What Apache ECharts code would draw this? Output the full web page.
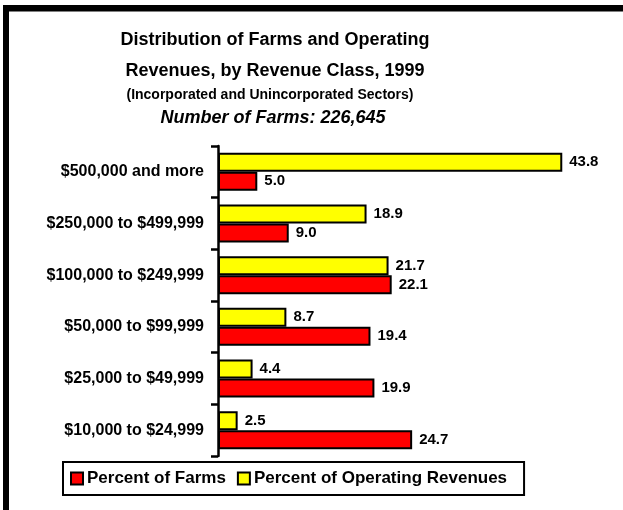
<!DOCTYPE html>
<html>
<head>
<meta charset="utf-8">
<script src="https://cdn.jsdelivr.net/npm/echarts@6/dist/echarts.min.js"></script>
<style>
  html, body { margin: 0; padding: 0; background: #fff; }
  #main { width: 623px; height: 510px; }
</style>
</head>
<body>
<div id="main"></div>
<script>
  // categories listed bottom to top (category axis runs upward)
  var categories = [
    '$10,000 to $24,999',
    '$25,000 to $49,999',
    '$50,000 to $99,999',
    '$100,000 to $249,999',
    '$250,000 to $499,999',
    '$500,000 and more'
  ];
  var farmsPct = [24.7, 19.9, 19.4, 22.1, 9.0, 5.0];
  var revenuePct = [2.5, 4.4, 8.7, 21.7, 18.9, 43.8];

  var titleLines = [
    'Distribution of Farms and Operating',
    'Revenues, by Revenue Class, 1999',
    '(Incorporated and Unincorporated Sectors)',
    'Number of Farms: 226,645'
  ];

  var FONT = '"Liberation Sans", Arial, Helvetica, sans-serif';
  var myChart = echarts.init(document.getElementById('main'));

  function valueLabel() {
    return {
      show: true,
      position: 'right',
      distance: 7,
      color: '#000',
      fontFamily: FONT,
      fontWeight: 'bold',
      fontSize: 15,
      formatter: function (p) { return p.value.toFixed(1); }
    };
  }

  myChart.setOption({
    backgroundColor: '#fff',
    animation: false,
    textStyle: { fontFamily: FONT },
    graphic: [
      // frame (top and left edges only)
      { type: 'rect', shape: { x: 3, y: 5, width: 620, height: 6.5 }, style: { fill: '#000' } },
      { type: 'rect', shape: { x: 3, y: 5, width: 6, height: 505 }, style: { fill: '#000' } },
      { type: 'text', x: 275, y: 40, style: { text: titleLines[0], textAlign: 'center', textVerticalAlign: 'middle', fill: '#000', font: 'bold 18px ' + FONT } },
      { type: 'text', x: 275, y: 71, style: { text: titleLines[1], textAlign: 'center', textVerticalAlign: 'middle', fill: '#000', font: 'bold 18px ' + FONT } },
      { type: 'text', x: 270, y: 95, style: { text: titleLines[2], textAlign: 'center', textVerticalAlign: 'middle', fill: '#000', font: 'bold 14px ' + FONT } },
      { type: 'text', x: 273, y: 118.5, style: { text: titleLines[3], textAlign: 'center', textVerticalAlign: 'middle', fill: '#000', font: 'italic bold 18px ' + FONT } }
    ],
    legend: {
      data: ['Percent of Farms', 'Percent of Operating Revenues'],
      left: 63,
      top: 462,
      padding: [8, 17, 8, 7],
      borderColor: '#000',
      borderWidth: 2,
      icon: 'rect',
      itemWidth: 12,
      itemHeight: 12,
      itemGap: 11,
      textStyle: { color: '#000', fontFamily: FONT, fontWeight: 'bold', fontSize: 17, padding: [0, 0, 0, -1] },
      itemStyle: { borderColor: '#000', borderWidth: 2 }
    },
    grid: { left: 218, top: 146, width: 393, height: 310, containLabel: false },
    xAxis: {
      type: 'value',
      min: 0,
      max: 50,
      show: false
    },
    yAxis: {
      type: 'category',
      data: categories,
      axisLine: { show: true, lineStyle: { color: '#000', width: 2.5 } },
      axisTick: { show: true, length: 7, lineStyle: { color: '#000', width: 2.5 } },
      axisLabel: { color: '#000', fontFamily: FONT, fontWeight: 'bold', fontSize: 16, margin: 14 },
      splitLine: { show: false }
    },
    series: [
      {
        name: 'Percent of Operating Revenues',
        type: 'bar',
        data: revenuePct,
        barWidth: 19,
        barGap: '0%',
        itemStyle: { color: '#ffff00', borderColor: '#000', borderWidth: 2 },
        label: valueLabel()
      },
      {
        name: 'Percent of Farms',
        type: 'bar',
        data: farmsPct,
        barWidth: 19,
        barGap: '0%',
        itemStyle: { color: '#ff0000', borderColor: '#000', borderWidth: 2 },
        label: valueLabel()
      }
    ]
  });
</script>
</body>
</html>
